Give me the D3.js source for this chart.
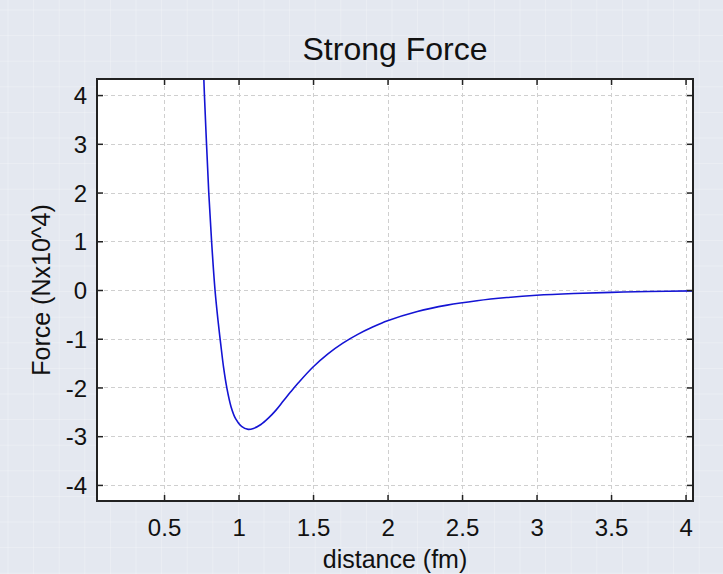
<!DOCTYPE html>
<html>
<head>
<meta charset="utf-8">
<script src="https://cdn.jsdelivr.net/npm/d3@7"></script>
<style>
  html, body { margin: 0; padding: 0; background: #e4e8f0; }
  svg { display: block; font-family: "Liberation Sans", Arial, sans-serif; }
</style>
</head>
<body>
<svg id="chart" width="723" height="574"></svg>
<script>
// values
const distance = [0.765, 0.771, 0.785, 0.800, 0.819, 0.842, 0.862, 0.880, 0.900, 0.922, 0.950, 0.980, 1.020, 1.065,
  1.100, 1.150, 1.200, 1.250, 1.300, 1.350, 1.400, 1.500, 1.600, 1.700, 1.800, 1.900, 2.000,
  2.200, 2.400, 2.600, 2.800, 3.000, 3.250, 3.500, 3.750, 4.050]
const force = [4.50, 4.00, 3.00, 2.00, 1.00, 0.00, -0.62, -1.10, -1.60, -2.02, -2.40, -2.64, -2.80, -2.86,
  -2.84, -2.76, -2.63, -2.47, -2.28, -2.09, -1.91, -1.58, -1.31, -1.09, -0.91, -0.76, -0.63,
  -0.44, -0.31, -0.22, -0.155, -0.108, -0.072, -0.048, -0.031, -0.018]
const xTicks = [0.5, 1, 1.5, 2, 2.5, 3, 3.5, 4]
const yTicks = [-4, -3, -2, -1, 0, 1, 2, 3, 4]

const svg = d3.select("#chart")
const W = 723, H = 574
const plot = { left: 97, top: 79, right: 693, bottom: 501 }

// faint background grid of the window behind the chart
const bg = svg.append("g")
d3.range(8, W, 25.6).forEach(x => bg.append("line")
  .attr("x1", x).attr("x2", x).attr("y1", 0).attr("y2", H)
  .attr("stroke", "#ffffff").attr("stroke-opacity", 0.25))
d3.range(10, H, 25.6).forEach(y => bg.append("line")
  .attr("x1", 0).attr("x2", W).attr("y1", y).attr("y2", y)
  .attr("stroke", "#ffffff").attr("stroke-opacity", 0.25))

const x = d3.scaleLinear().domain([0.05, 4.05]).range([plot.left, plot.right])
const y = d3.scaleLinear().domain([-4.33, 4.33]).range([plot.bottom, plot.top])

svg.append("rect")
  .attr("x", plot.left).attr("y", plot.top)
  .attr("width", plot.right - plot.left).attr("height", plot.bottom - plot.top)
  .attr("fill", "#ffffff")

// dashed grid
const grid = svg.append("g").attr("stroke", "#cfcfcf").attr("stroke-width", 1).attr("stroke-dasharray", "4,3")
grid.selectAll(".gx").data(xTicks).enter().append("line")
  .attr("x1", d => Math.round(x(d)) + 0.5).attr("x2", d => Math.round(x(d)) + 0.5)
  .attr("y1", plot.top).attr("y2", plot.bottom)
grid.selectAll(".gy").data(yTicks).enter().append("line")
  .attr("y1", d => Math.round(y(d)) + 0.5).attr("y2", d => Math.round(y(d)) + 0.5)
  .attr("x1", plot.left).attr("x2", plot.right)

// curve
svg.append("clipPath").attr("id", "clip").append("rect")
  .attr("x", plot.left).attr("y", plot.top)
  .attr("width", plot.right - plot.left).attr("height", plot.bottom - plot.top)

const pts = distance.map((d, i) => [d, force[i]])
svg.append("path")
  .datum(pts)
  .attr("clip-path", "url(#clip)")
  .attr("fill", "none")
  .attr("stroke", "#1414d4")
  .attr("stroke-width", 1.6)
  .attr("d", d3.line().x(d => x(d[0])).y(d => y(d[1])).curve(d3.curveCatmullRom.alpha(0.5)))

// axes with inward ticks on all four sides
const tickLen = 6
const fmt = d => String(d)
svg.append("g").attr("transform", `translate(0,${plot.bottom})`)
  .call(d3.axisBottom(x).tickValues(xTicks).tickSizeInner(-tickLen).tickSizeOuter(0).tickFormat(fmt))
  .call(g => g.select(".domain").remove())
  .call(g => g.selectAll("text").attr("y", 35).attr("dy", 0).attr("font-size", 24).attr("fill", "#111"))
svg.append("g").attr("transform", `translate(0,${plot.top})`)
  .call(d3.axisTop(x).tickValues(xTicks).tickSizeInner(-tickLen).tickSizeOuter(0).tickFormat(""))
  .call(g => g.select(".domain").remove())
svg.append("g").attr("transform", `translate(${plot.left},0)`)
  .call(d3.axisLeft(y).tickValues(yTicks).tickSizeInner(-tickLen).tickSizeOuter(0).tickFormat(fmt))
  .call(g => g.select(".domain").remove())
  .call(g => g.selectAll("text").attr("x", -10).attr("dy", "0.36em").attr("font-size", 24).attr("fill", "#111"))
svg.append("g").attr("transform", `translate(${plot.right},0)`)
  .call(d3.axisRight(y).tickValues(yTicks).tickSizeInner(-tickLen).tickSizeOuter(0).tickFormat(""))
  .call(g => g.select(".domain").remove())
svg.selectAll(".tick line").attr("stroke", "#222").attr("stroke-width", 1.5)

svg.append("rect")
  .attr("x", plot.left).attr("y", plot.top)
  .attr("width", plot.right - plot.left).attr("height", plot.bottom - plot.top)
  .attr("fill", "none").attr("stroke", "#222").attr("stroke-width", 2)

// titles
svg.append("text")
  .attr("x", (plot.left + plot.right) / 2).attr("y", 60)
  .attr("text-anchor", "middle").attr("font-size", 32).attr("fill", "#111")
  .text("Strong Force")
svg.append("text")
  .attr("x", (plot.left + plot.right) / 2).attr("y", 568)
  .attr("text-anchor", "middle").attr("font-size", 25).attr("fill", "#111")
  .text("distance (fm)")
svg.append("text")
  .attr("transform", `translate(50,${(plot.top + plot.bottom) / 2}) rotate(-90)`)
  .attr("text-anchor", "middle").attr("font-size", 25).attr("fill", "#111")
  .text("Force (Nx10^4)")
</script>
</body>
</html>
